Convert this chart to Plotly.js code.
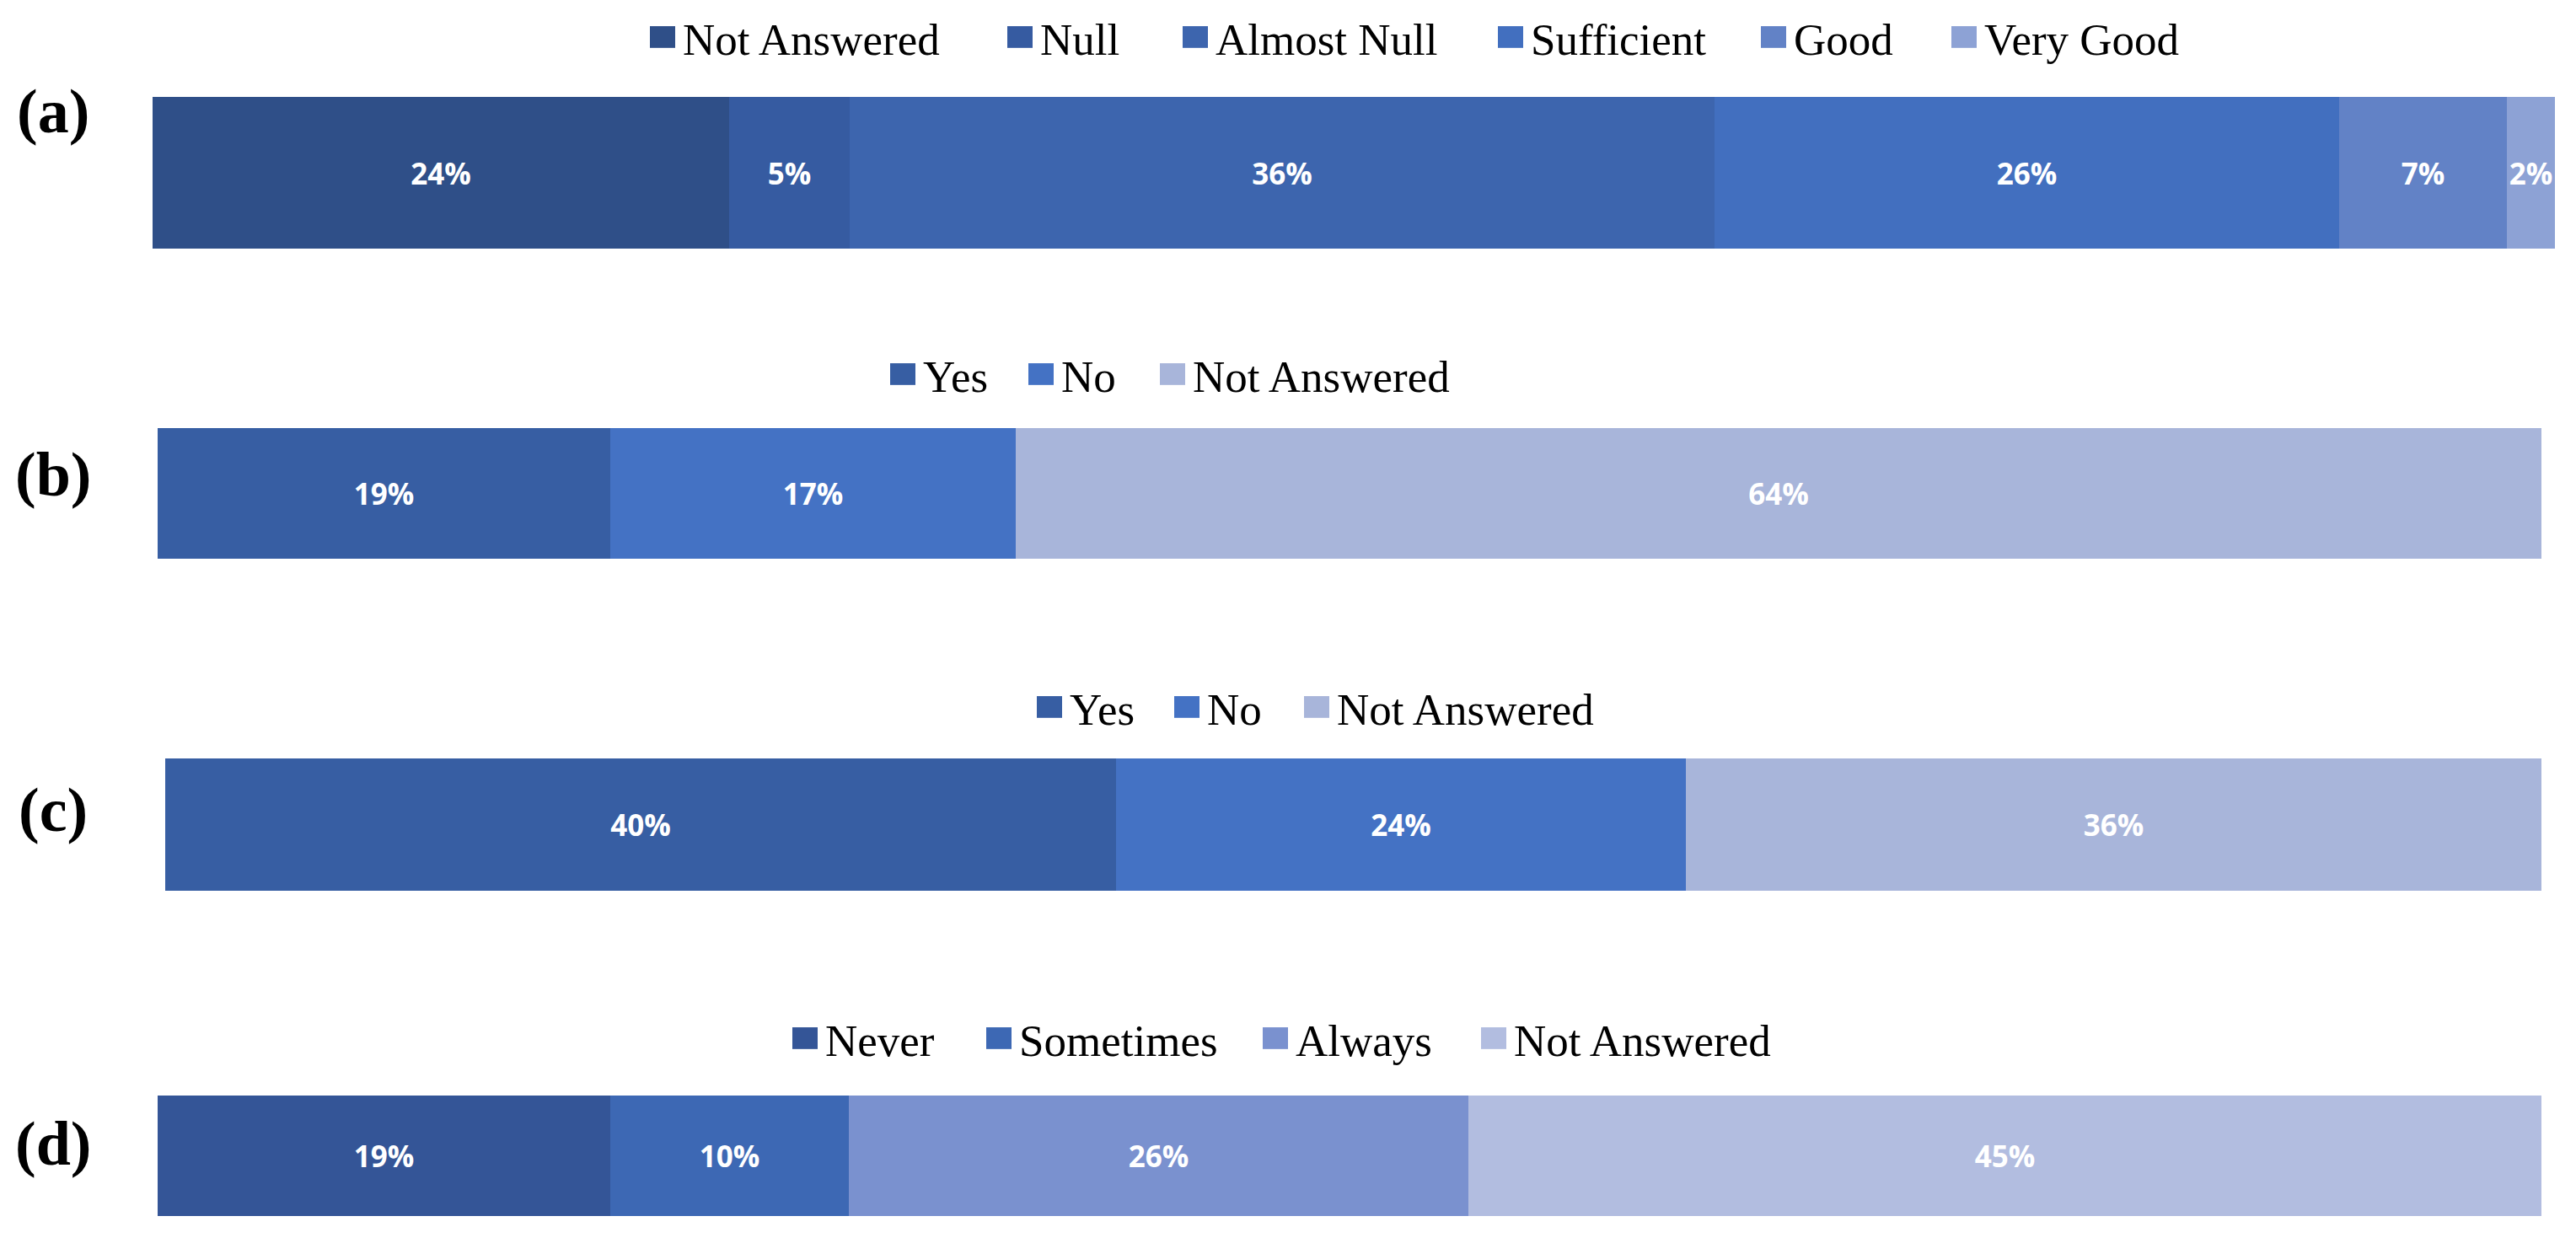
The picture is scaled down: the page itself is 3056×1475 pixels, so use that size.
<!DOCTYPE html>
<html>
<head>
<meta charset="utf-8">
<script src="https://cdn.plot.ly/plotly-3.0.1.min.js"></script>
<style>
html,body{margin:0;padding:0;background:#ffffff;}
#chart{width:3056px;height:1475px;}
</style>
</head>
<body>
<div id="chart"></div>
<script>
// ---- data ----
const panelLabels = ['(a)', '(b)', '(c)', '(d)'];

const catsA = ['Not Answered', 'Null', 'Almost Null', 'Sufficient', 'Good', 'Very Good'];
const valsA = [24, 5, 36, 26, 7, 2];

const catsB = ['Yes', 'No', 'Not Answered'];
const valsB = [19, 17, 64];

const catsC = ['Yes', 'No', 'Not Answered'];
const valsC = [40, 24, 36];

const catsD = ['Never', 'Sometimes', 'Always', 'Not Answered'];
const valsD = [19, 10, 26, 45];

// ---- styles ----
const colA = ['#2F4F88', '#365BA1', '#3D65AE', '#426FBF', '#6282C6', '#8DA2D5'];
const colB = ['#375EA3', '#4472C4', '#A8B5DA'];
const colC = ['#375EA3', '#4472C4', '#A8B5DA'];
const colD = ['#345597', '#3D68B4', '#7A91CF', '#B2BDE0'];

const W = 3056, H = 1475;

// layout geometry (pixels in the figure)
const panels = [
  {cats: catsA, vals: valsA, colors: colA, xd: [181, 3031], yd: [115, 295], legY: 44,
   legX: [771, 1195, 1403, 1777, 2089, 2315], lab: [63, 132]},
  {cats: catsB, vals: valsB, colors: colB, xd: [187, 3015], yd: [508, 663], legY: 444,
   legX: [1056, 1220, 1376], lab: [63, 563]},
  {cats: catsC, vals: valsC, colors: colC, xd: [196, 3015], yd: [900, 1057], legY: 839,
   legX: [1230, 1393, 1547], lab: [63, 961]},
  {cats: catsD, vals: valsD, colors: colD, xd: [187, 3015], yd: [1300, 1443], legY: 1232,
   legX: [940, 1170, 1498, 1757], lab: [63, 1357]}
];

const traces = [];
const layout = {
  width: W, height: H,
  margin: {l: 0, r: 0, t: 0, b: 0, pad: 0},
  paper_bgcolor: '#ffffff',
  plot_bgcolor: 'rgba(0,0,0,0)',
  barmode: 'stack',
  bargap: 0,
  showlegend: true,
  annotations: [],
  hovermode: 'closest'
};

let legIdx = 1;
panels.forEach(function (p, i) {
  const s = i === 0 ? '' : String(i + 1);
  layout['xaxis' + s] = {
    domain: [p.xd[0] / W, p.xd[1] / W],
    range: [0, 100], visible: false, fixedrange: true,
    anchor: 'y' + s
  };
  layout['yaxis' + s] = {
    domain: [1 - p.yd[1] / H, 1 - p.yd[0] / H],
    range: [-0.5, 0.5], visible: false, fixedrange: true,
    anchor: 'x' + s
  };
  p.cats.forEach(function (c, j) {
    const lname = legIdx === 1 ? 'legend' : 'legend' + legIdx;
    legIdx++;
    traces.push({
      type: 'bar', orientation: 'h',
      name: c,
      x: [p.vals[j]], y: [0],
      xaxis: 'x' + s, yaxis: 'y' + s,
      legend: lname,
      marker: {color: p.colors[j], line: {width: 0}},
      texttemplate: '%{x}%',
      textposition: 'inside',
      insidetextanchor: 'middle',
      textangle: 0,
      constraintext: 'none',
      textfont: {family: 'Open Sans, sans-serif', size: 35, color: '#ffffff', weight: 'bold'},
      hovertemplate: c + ': %{x}%<extra></extra>'
    });
    layout[lname] = {
      orientation: 'h',
      x: (p.legX[j] - 1) / W, xanchor: 'left',
      y: 1 - p.legY / H, yanchor: 'middle',
      bgcolor: 'rgba(0,0,0,0)', borderwidth: 0,
      font: {family: 'Liberation Serif, serif', size: 53, color: '#000000'},
      traceorder: 'normal'
    };
  });
  layout.annotations.push({
    text: panelLabels[i],
    xref: 'paper', yref: 'paper',
    x: p.lab[0] / W, y: 1 - p.lab[1] / H,
    xanchor: 'center', yanchor: 'middle',
    showarrow: false,
    font: {family: 'Liberation Serif, serif', size: 74, color: '#000000', weight: 'bold'}
  });
});

// enlarge the legend colour squares (keeps the library's own placement transform)
function enlargeLegendSymbols(gd) {
  gd.querySelectorAll('.legendpoints path').forEach(function (el) {
    const t = el.getAttribute('transform') || '';
    if (t.indexOf('scale') === -1) {
      el.setAttribute('transform', (t + ' translate(-4,0) scale(2.5,2.15)').trim());
    }
  });
}

Plotly.newPlot('chart', traces, layout, {displayModeBar: false, responsive: false})
  .then(function (gd) {
    enlargeLegendSymbols(gd);
    gd.on('plotly_afterplot', function () { enlargeLegendSymbols(gd); });
  });
</script>
</body>
</html>
